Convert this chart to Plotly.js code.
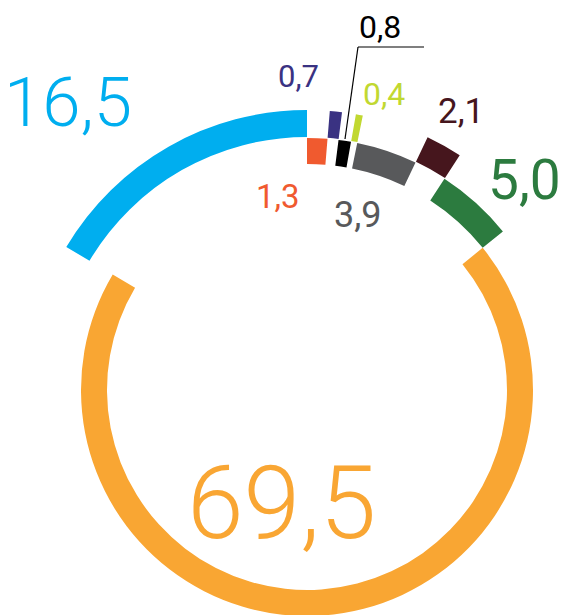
<!DOCTYPE html>
<html><head><meta charset="utf-8">
<script src="https://cdn.plot.ly/plotly-3.0.1.min.js"></script>
<style>
html,body{margin:0;padding:0;overflow:hidden;background:#fff;width:564px;height:615px}
#chart{position:absolute;left:0;top:0;width:614px;height:780px}
</style>
</head><body><div id="chart"></div>
<script>
// data (clockwise from 12 o'clock)
const categories = ['s1','s2','s3','s4','s5','s6','s7','s8','s9'];
const values = [1.3, 0.7, 0.8, 0.4, 3.9, 2.1, 5.0, 69.5, 16.5];
const colors = ['#F05A2F','#3A3282','#000000','#C1D831','#58595B','#46161D','#2C7B3F','#F9A633','#00AEEF'];
// ring layer of each segment: 0 = inner, 1 = middle, 2 = outer
const layers = [1, 2, 1, 2, 1, 2, 1, 0, 2];

// style: ring geometry in px (radial axis is 1 unit = 1 px)
const layerBase = [200, 226, 253];
const layerThick = [26, 26, 27];
// label positions (px in the 564x615 view) and sizes
const labelPos = [[278,196],[298,77],[380,27],[384,94],[358,215],[461,112],[524,180],[281,503],[68,103]];
const labelSize = [33, 31, 32, 32, 36, 35, 55, 102, 69];
const labelWeight = [400, 400, 400, 400, 400, 400, 400, 300, 300];

const W = 614, H = 780;
const total = values.reduce((a,b)=>a+b,0);
let cum = 0;
const theta = [], width = [];
values.forEach(v => { theta.push((cum + v/2)/total*360); width.push(v/total*360); cum += v; });

const trace = {
  type: 'barpolar',
  theta: theta,
  width: width,
  base: layers.map(l => layerBase[l]),
  r: layers.map(l => layerThick[l]),
  text: categories,
  marker: {color: colors, line: {width: 0}},
  hoverinfo: 'skip'
};

const px = x => x / W, py = y => 1 - y / H;
const annotations = values.map((v,i) => ({
  xref:'paper', yref:'paper', x: px(labelPos[i][0]), y: py(labelPos[i][1]),
  xanchor:'center', yanchor:'middle', showarrow:false,
  text: v.toFixed(1).replace('.', ','),
  font: {family: 'Roboto', weight: labelWeight[i], size: labelSize[i], color: colors[i]}
}));

const shapes = [
  {type:'line', xref:'paper', yref:'paper', x0:px(345), y0:py(139), x1:px(358), y1:py(47), line:{color:'#000', width:1.2}},
  {type:'line', xref:'paper', yref:'paper', x0:px(358), y0:py(47), x1:px(424), y1:py(47), line:{color:'#000', width:1.2}}
];

const layout = {
  width: W, height: H,
  margin: {l:0, r:0, t:0, b:0},
  paper_bgcolor: '#fff',
  showlegend: false,
  polar: {
    domain: {x:[0,1], y:[0,1]},
    bgcolor: 'rgba(0,0,0,0)',
    radialaxis: {range:[0, W/2], autorange:false, visible:false, showgrid:false},
    angularaxis: {visible:false, direction:'clockwise', rotation:90, showgrid:false}
  },
  annotations: annotations,
  shapes: shapes
};

Plotly.newPlot('chart', [trace], layout, {staticPlot:true, displayModeBar:false});
</script>
</body></html>
